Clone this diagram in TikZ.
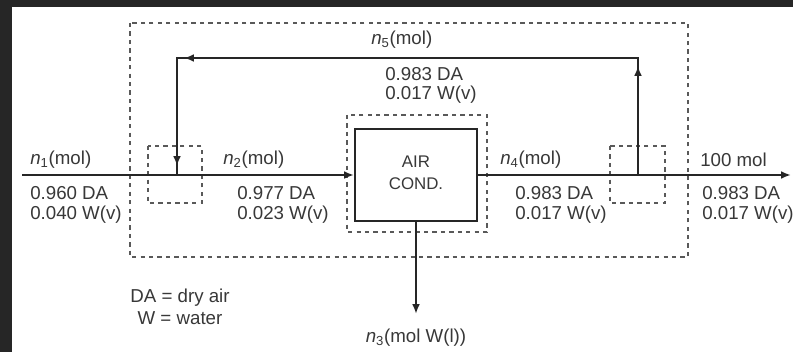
\documentclass[tikz,border=0pt]{standalone}
\usepackage{fontspec}
\setmainfont{Liberation Sans}
\usetikzlibrary{arrows.meta}
\begin{document}
\begin{tikzpicture}[x=0.25mm,y=-0.25mm,
 flow/.style={line width=1.4pt,draw=black!85},
 tip/.style={-{Latex[length=7pt,width=5.5pt]}},
 bnd/.style={dash pattern=on 3pt off 3pt,line width=0.9pt,draw=black!65},
 lbl/.style={font=\fontsize{13.3}{15}\selectfont,text=black!78,inner sep=0pt,anchor=west},
 clbl/.style={font=\fontsize{13.3}{15}\selectfont,text=black!78,inner sep=0pt},
]
\useasboundingbox (0,0) rectangle (793,352);
\fill[black!85] (0,0) rectangle (793,352);
\fill[white] (12,7) rectangle (793,352);

% boundaries
\draw[bnd] (130,23) rectangle (688,257);
\draw[bnd] (347,115) rectangle (487,232);
\draw[bnd] (148,146) rectangle (202,203);
\draw[bnd] (610,146) rectangle (665,203);

% unit
\node[draw=black!85,line width=1.4pt,fill=white,minimum width=30.5mm,minimum height=23mm,inner sep=0pt] (ac) at (416,175) {};
\node[clbl,font=\fontsize{12}{14}\selectfont] (air) at (416,162) {AIR};
\node[clbl,font=\fontsize{12}{14}\selectfont] (cond) at (416,184) {COND.};

% coordinates
\coordinate (in) at (22,175);
\coordinate (mix) at (177,175);
\coordinate (spl) at (638,175);
\coordinate (out) at (791,175);
\coordinate (cnd) at (416,314);
\coordinate (rtr) at (638,58);
\coordinate (rtl) at (177,58);

% streams
\draw[flow,tip] (in) -- (ac.west);
\draw[flow,tip] (ac.east) -- (out);
\draw[flow,tip] (ac.south) -- (cnd);
\draw[flow] (spl) -- (rtr) -- (rtl) -- (mix);
\draw[flow,tip] (spl) -- (638,66);
\draw[flow,tip] (rtr) -- (184,58);
\draw[flow,tip] (rtl) -- (177,166);

% labels
\node[lbl] (l1) at (30,160) {\textit{n}\textsubscript{1}(mol)};
\node[lbl] (l1a) at (30,193) {0.960 DA};
\node[lbl] (l1b) at (30,215) {0.040 W(v)};
\node[lbl] (l2) at (223,160) {\textit{n}\textsubscript{2}(mol)};
\node[lbl] (l2a) at (237,193) {0.977 DA};
\node[lbl] (l2b) at (237,215) {0.023 W(v)};
\node[lbl] (l4) at (500,160) {\textit{n}\textsubscript{4}(mol)};
\node[lbl] (l4a) at (515,193) {0.983 DA};
\node[lbl] (l4b) at (515,215) {0.017 W(v)};
\node[lbl] (l6) at (700,160) {100 mol};
\node[lbl] (l6a) at (702,193) {0.983 DA};
\node[lbl] (l6b) at (702,215) {0.017 W(v)};
\node[lbl] (l5) at (371,40) {\textit{n}\textsubscript{5}(mol)};
\node[lbl] (l5a) at (385,74) {0.983 DA};
\node[lbl] (l5b) at (385,95) {0.017 W(v)};
\node[clbl] (l3) at (416,338) {\textit{n}\textsubscript{3}(mol W(l))};
\node[clbl] (k1) at (180,298) {DA = dry air};
\node[clbl] (k2) at (180,318) {W = water};
\end{tikzpicture}
\end{document}
